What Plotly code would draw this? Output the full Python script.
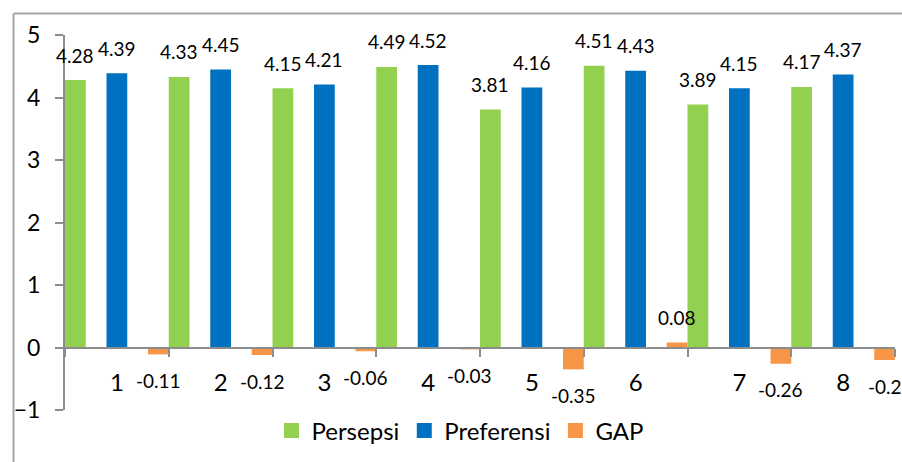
import plotly.graph_objects as go

# Indikator penilaian 1-8
categories = ["1", "2", "3", "4", "5", "6", "7", "8"]
persepsi = [4.28, 4.33, 4.15, 4.49, 3.81, 4.51, 3.89, 4.17]
preferensi = [4.39, 4.45, 4.21, 4.52, 4.16, 4.43, 4.15, 4.37]
gap = [-0.11, -0.12, -0.06, -0.03, -0.35, 0.08, -0.26, -0.2]
y_ticks = [-1, 0, 1, 2, 3, 4, 5]

FONT = "Lato"
AXIS_GRAY = "#8c8c8c"
W, H = 902, 462
ML, MR, MT, MB = 65, 7, 35, 52
Y_MIN, Y_MAX = -1, 5

series = [
    ("Persepsi", persepsi, "#92D050", -0.5),
    ("Preferensi", preferensi, "#0070C0", -0.1),
    ("GAP", gap, "#F79646", 0.3),
]
BAR_W = 0.2

fig = go.Figure()
annotations = []
for name, vals, color, off in series:
    fig.add_trace(go.Bar(
        name=name, x=categories, y=vals,
        width=BAR_W, offset=off, showlegend=False,
        marker=dict(color=color, line=dict(width=0)),
    ))
    for i, v in enumerate(vals):
        annotations.append(dict(
            x=i + off + BAR_W / 2, y=v, xref="x", yref="y",
            text=f"{v:g}", showarrow=False,
            yanchor="middle", xanchor="center",
            yshift=25 if v >= 0 else -26,
            font=dict(family=FONT, size=19, color="#000000"),
        ))

# legend entries with square keys
for name, vals, color, off in series:
    fig.add_trace(go.Scatter(
        name=name, x=[None], y=[None], mode="markers",
        marker=dict(symbol="square", size=15, color=color, line=dict(width=0)),
        showlegend=True,
    ))

# outer chart frame (left and top edges visible)
pw, ph = W - ML - MR, H - MT - MB
fx0 = (13.5 - ML) / pw
fy1 = 1 + (MT - 13.5) / ph
shapes = [
    dict(type="line", xref="paper", yref="paper", x0=fx0, x1=fx0,
         y0=fy1, y1=-MB / ph - 0.05, line=dict(color="#a6a6a6", width=2)),
    dict(type="line", xref="paper", yref="paper", x0=fx0, x1=1 + MR / pw + 0.05,
         y0=fy1, y1=fy1, line=dict(color="#a6a6a6", width=2)),
]

fig.update_layout(
    width=W, height=H,
    margin=dict(l=ML, r=MR, t=MT, b=MB, pad=0),
    paper_bgcolor="white", plot_bgcolor="white",
    barmode="overlay",
    showlegend=True,
    legend=dict(
        orientation="h", x=(460 - ML) / pw, xanchor="center",
        y=(MT + ph - 431) / ph, yanchor="middle",
        font=dict(family=FONT, size=24, color="#000000"),
        bgcolor="rgba(0,0,0,0)", traceorder="normal",
        itemwidth=30,
    ),
    annotations=annotations,
    shapes=shapes,
    xaxis=dict(
        type="category", range=[-0.5, 7.5],
        anchor="free", position=(0 - Y_MIN) / (Y_MAX - Y_MIN),
        showline=True, linecolor=AXIS_GRAY, linewidth=2,
        ticks="outside", tickson="boundaries", ticklen=8,
        tickcolor=AXIS_GRAY, tickwidth=2,
        ticklabelstandoff=14,
        tickfont=dict(family=FONT, size=24, color="#000000"),
        showgrid=False, zeroline=False, fixedrange=True,
    ),
    yaxis=dict(
        range=[Y_MIN, Y_MAX], tickvals=y_ticks,
        showline=True, linecolor=AXIS_GRAY, linewidth=2,
        ticks="outside", ticklen=8, tickcolor=AXIS_GRAY, tickwidth=2,
        ticklabelstandoff=10,
        tickfont=dict(family=FONT, size=23, color="#000000"),
        showgrid=False, zeroline=False, fixedrange=True,
    ),
)

fig.write_html("out.html")
